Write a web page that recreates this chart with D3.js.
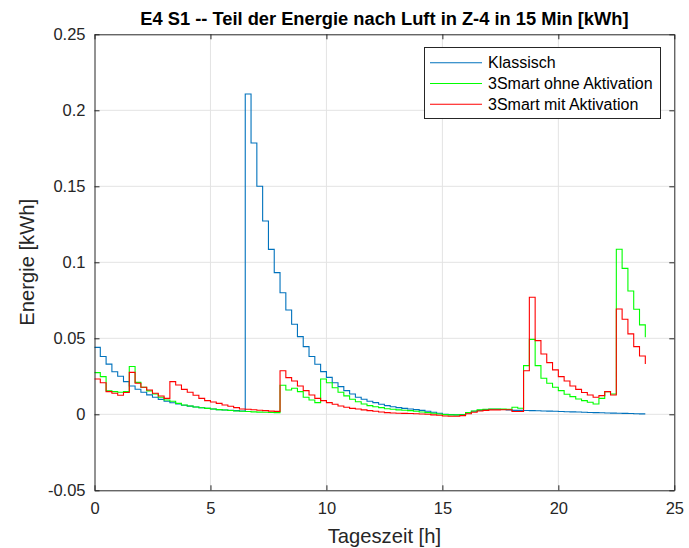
<!DOCTYPE html>
<html>
<head>
<meta charset="utf-8">
<script src="https://cdn.jsdelivr.net/npm/d3@7"></script>
<style>
  body { margin: 0; background: #fff; }
  svg { display: block; font-family: "Liberation Sans", Arial, sans-serif; }
</style>
</head>
<body>
<svg id="chart" width="689" height="548"></svg>
<script>
const title = "E4 S1 -- Teil der Energie nach Luft in Z-4 in 15 Min [kWh]";
const xLabel = "Tageszeit [h]";
const yLabel = "Energie [kWh]";
const seriesNames = ["Klassisch", "3Smart ohne Aktivation", "3Smart mit Aktivation"];
const seriesColors = ["#0072BD", "#00FF00", "#FF0000"];
const xTicks = [0, 5, 10, 15, 20, 25];
const yTicks = [-0.05, 0, 0.05, 0.1, 0.15, 0.2, 0.25];
const stepHours = 0.25;

const klassisch = [
  0.044, 0.038, 0.033, 0.028, 0.025, 0.0215, 0.0186, 0.0165, 0.0145, 0.0128,
  0.0112, 0.0098, 0.0086, 0.0076, 0.0068, 0.006, 0.0054, 0.0048, 0.0043, 0.0039,
  0.0035, 0.0031, 0.0028, 0.0026, 0.0024, 0.0022,
  0.2107, 0.1785, 0.15, 0.1272,
  0.1085, 0.0932, 0.08, 0.0686, 0.0592, 0.0511, 0.0445, 0.038, 0.0329, 0.0281,
  0.0243, 0.0208, 0.0182, 0.0156, 0.0134, 0.0112, 0.0099, 0.0086, 0.0077, 0.0066,
  0.0057, 0.005, 0.0044, 0.0039, 0.0035, 0.0031, 0.0026, 0.002, 0.0013, 0.0007,
  0, -0.0002, -0.0004, -0.0002, 0.0011, 0.002, 0.0026, 0.0031, 0.0033, 0.0033,
  0.0032, 0.0029, 0.0026, 0.0026, 0.0025, 0.0024, 0.0023, 0.0022, 0.0021, 0.002,
  0.0018, 0.0017, 0.0016, 0.0015, 0.0013, 0.0012, 0.0011, 0.001, 0.0009, 0.0008,
  0.0007, 0.0006, 0.0005, 0.0004, 0.0003, 0.0003
];
const ohneAktivation = [
  0.0274, 0.0248, 0.0154, 0.0149, 0.0145, 0.0149, 0.0314, 0.021, 0.0178, 0.0154,
  0.0134, 0.0112, 0.0094, 0.0086, 0.0072, 0.0061, 0.0055, 0.0048, 0.0043, 0.0039,
  0.0035, 0.0031, 0.0028, 0.0025, 0.0022, 0.002,
  0.0018, 0.0016, 0.0014, 0.0013,
  0.0012, 0.0011, 0.0191, 0.016, 0.0171, 0.0149, 0.0112, 0.0094, 0.0077, 0.0232,
  0.0208, 0.0175, 0.0145, 0.0121, 0.0099, 0.0083, 0.0068, 0.0057, 0.005, 0.0044,
  0.0037, 0.0033, 0.0029, 0.0027, 0.0024, 0.002, 0.0015, 0.0011, 0.0007, 0.0002,
  -0.0002, -0.0004, -0.0004, -0.0003, 0.0011, 0.0022, 0.0029, 0.0033, 0.0035, 0.0035,
  0.0034, 0.0033, 0.0046, 0.004, 0.032, 0.0493, 0.032, 0.0237, 0.0204, 0.0178,
  0.0156, 0.0132, 0.0116, 0.0101, 0.009, 0.0079, 0.0068, 0.0105, 0.0149, 0.0134,
  0.1086, 0.096, 0.0811, 0.0691, 0.0588, 0.0507
];
const mitAktivation = [
  0.0232, 0.0208, 0.0149, 0.0138, 0.0125, 0.0143, 0.0276, 0.0204, 0.0178, 0.016,
  0.0138, 0.012, 0.0105, 0.0215, 0.0193, 0.0164, 0.0145, 0.0125, 0.0105, 0.009,
  0.0081, 0.0072, 0.0061, 0.0053, 0.0044, 0.0035,
  0.0033, 0.003, 0.0027, 0.0024,
  0.0021, 0.0019, 0.0287, 0.0241, 0.0219, 0.0186, 0.0156, 0.0127, 0.0105, 0.009,
  0.0077, 0.0066, 0.0055, 0.0046, 0.0039, 0.0035, 0.0029, 0.0024, 0.002, 0.0015,
  0.0011, 0.0009, 0.0007, 0.0006, 0.0005, 0.0004, 0.0002, 0, -0.0004, -0.0006,
  -0.0011, -0.0013, -0.0013, -0.0009, 0.0004, 0.0013, 0.0022, 0.0026, 0.0029, 0.0029,
  0.003, 0.003, 0.0018, 0.0018, 0.0287, 0.077, 0.0485, 0.0397, 0.034, 0.0292,
  0.0248, 0.0219, 0.0186, 0.0164, 0.0143, 0.0127, 0.0112, 0.0123, 0.0149, 0.0127,
  0.0693, 0.0625, 0.0529, 0.0445, 0.0384, 0.0331
];

const seriesValues = [klassisch, ohneAktivation, mitAktivation];

const svg = d3.select("#chart");
const L = 94.5, R = 674.3, T = 34.3, B = 490.3;
const textColor = "#262626";

const x = d3.scaleLinear().domain([0, 25]).range([L, R]);
const y = d3.scaleLinear().domain([-0.05, 0.25]).range([B, T]);

// grid
const grid = svg.append("g").attr("stroke", "#e3e3e3").attr("stroke-width", 1);
xTicks.slice(1, -1).forEach(t => {
  grid.append("line").attr("x1", x(t)).attr("x2", x(t)).attr("y1", T).attr("y2", B);
});
yTicks.slice(1, -1).forEach(t => {
  grid.append("line").attr("x1", L).attr("x2", R).attr("y1", y(t)).attr("y2", y(t));
});

// series
const line = d3.line()
  .x((d, i) => x(i * stepHours))
  .y(d => y(d))
  .curve(d3.curveStepAfter);

const plot = svg.append("g");
seriesValues.forEach((vals, k) => {
  plot.append("path")
    .attr("d", line(vals))
    .attr("fill", "none")
    .attr("stroke", seriesColors[k])
    .attr("stroke-width", 1.1);
});

// axes
const fmt = d => (Math.round(d * 1000) / 1000).toString();
const axBottom = d3.axisBottom(x).tickValues(xTicks).tickSizeInner(-5).tickSizeOuter(0).tickPadding(12).tickFormat(fmt);
const axTop = d3.axisTop(x).tickValues(xTicks).tickSizeInner(-5).tickSizeOuter(0).tickFormat("");
const axLeft = d3.axisLeft(y).tickValues(yTicks).tickSizeInner(-5).tickSizeOuter(0).tickPadding(9).tickFormat(fmt);
const axRight = d3.axisRight(y).tickValues(yTicks).tickSizeInner(-5).tickSizeOuter(0).tickFormat("");

function styleAxis(g) {
  g.select(".domain").attr("stroke", textColor);
  g.selectAll(".tick line").attr("stroke", textColor);
  g.selectAll(".tick text").attr("fill", textColor).style("font-size", "16.5px")
    .style("font-family", "'Liberation Sans', Arial, sans-serif");
}
svg.append("g").attr("transform", `translate(0,${B})`).call(axBottom).call(styleAxis);
svg.append("g").attr("transform", `translate(0,${T})`).call(axTop).call(styleAxis);
svg.append("g").attr("transform", `translate(${L},0)`).call(axLeft).call(styleAxis);
svg.append("g").attr("transform", `translate(${R},0)`).call(axRight).call(styleAxis);

// title & labels
svg.append("text")
  .attr("x", (L + R) / 2).attr("y", 24.5)
  .attr("text-anchor", "middle")
  .attr("fill", "#000")
  .style("font-size", "18.3px").style("font-weight", "bold")
  .text(title);

svg.append("text")
  .attr("x", (L + R) / 2).attr("y", 543)
  .attr("text-anchor", "middle")
  .attr("fill", textColor)
  .style("font-size", "20.2px")
  .text(xLabel);

svg.append("text")
  .attr("transform", `translate(34,${(T + B) / 2}) rotate(-90)`)
  .attr("text-anchor", "middle")
  .attr("fill", textColor)
  .style("font-size", "20.2px")
  .text(yLabel);

// legend
const lg = svg.append("g");
lg.append("rect")
  .attr("x", 424.5).attr("y", 47.5).attr("width", 236).attr("height", 71)
  .attr("fill", "#fff").attr("stroke", textColor).attr("stroke-width", 1);
const rowY = [62.7, 83.5, 104.3];
seriesNames.forEach((name, k) => {
  lg.append("line")
    .attr("x1", 430).attr("x2", 482)
    .attr("y1", rowY[k]).attr("y2", rowY[k])
    .attr("stroke", seriesColors[k]).attr("stroke-width", 1.1);
  lg.append("text")
    .attr("x", 488).attr("y", rowY[k] + 5.6)
    .attr("fill", "#000")
    .style("font-size", "16px")
    .text(name);
});
</script>
</body>
</html>
